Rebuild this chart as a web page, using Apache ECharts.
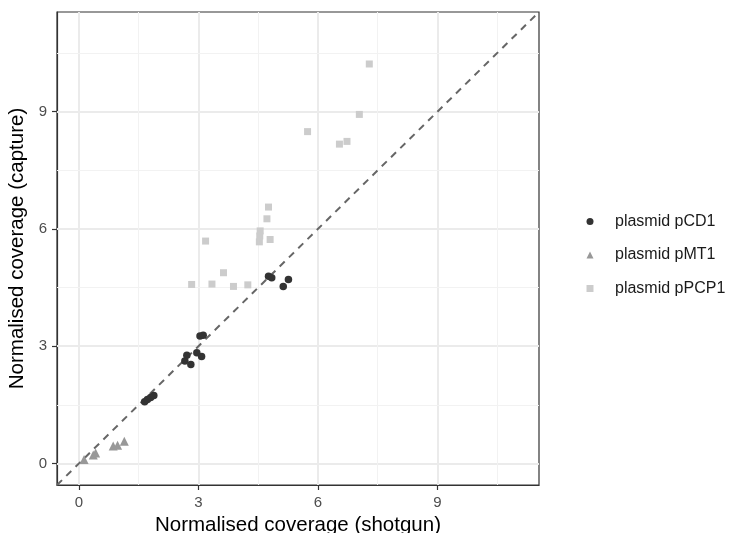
<!DOCTYPE html>
<html>
<head>
<meta charset="utf-8">
<script src="https://cdn.jsdelivr.net/npm/echarts@6/dist/echarts.min.js"></script>
<style>html,body{margin:0;padding:0;background:#fff;}#c{width:732px;height:533px;}</style>
</head>
<body>
<div id="c"></div>
<script>
// Data
const seriesNames = ['plasmid pCD1', 'plasmid pMT1', 'plasmid pPCP1'];
const pCD1_x = [1.65, 1.72, 1.80, 1.88, 2.66, 2.71, 2.81, 2.96, 3.08, 3.04, 3.12, 4.76, 4.84, 5.13, 5.26];
const pCD1_y = [1.58, 1.64, 1.69, 1.74, 2.62, 2.77, 2.53, 2.83, 2.74, 3.26, 3.28, 4.79, 4.75, 4.53, 4.71];
const pMT1_x = [0.13, 0.36, 0.42, 0.86, 0.97, 1.14];
const pMT1_y = [0.10, 0.22, 0.27, 0.45, 0.47, 0.57];
const pPCP1_x = [2.83, 3.18, 3.34, 3.63, 3.88, 4.24, 4.53, 4.55, 4.54, 4.80, 4.72, 4.76, 5.74, 6.54, 6.73, 7.04, 7.29];
const pPCP1_y = [4.58, 5.69, 4.59, 4.88, 4.53, 4.57, 5.67, 5.95, 5.82, 5.73, 6.26, 6.56, 8.49, 8.17, 8.24, 8.93, 10.22];
const axisLimits = [-0.55, 11.55];
const majorTicks = [0, 3, 6, 9];
const minorTicks = [1.5, 4.5, 7.5, 10.5];
const xTitle = 'Normalised coverage (shotgun)';
const yTitle = 'Normalised coverage (capture)';

const zip = (xs, ys) => xs.map((x, i) => [x, ys[i]]);
const FONT = 'Liberation Sans, Arial, Helvetica, sans-serif';
const colors = ['#333333', '#989898', '#cccccc'];

const gridLines = [];
majorTicks.forEach(v => {
  gridLines.push({xAxis: v, lineStyle: {color: '#ebebeb', width: 2, type: 'solid'}});
  gridLines.push({yAxis: v, lineStyle: {color: '#ebebeb', width: 2, type: 'solid'}});
});
minorTicks.forEach(v => {
  gridLines.push({xAxis: v, lineStyle: {color: '#f2f2f2', width: 1, type: 'solid'}});
  gridLines.push({yAxis: v, lineStyle: {color: '#f2f2f2', width: 1, type: 'solid'}});
});

const axisCommon = {
  type: 'value',
  min: axisLimits[0],
  max: axisLimits[1],
  nameLocation: 'middle',
  nameTextStyle: {fontFamily: FONT, fontSize: 20.5, color: '#000'},
  splitLine: {show: false},
  axisLine: {show: true, onZero: false, lineStyle: {color: '#333333', width: 1.2}},
  axisTick: {show: true, length: 5, customValues: majorTicks, lineStyle: {color: '#333333', width: 1.2}},
  axisLabel: {show: true, customValues: majorTicks, fontFamily: FONT, fontSize: 15, color: '#4d4d4d', margin: 10}
};

const chart = echarts.init(document.getElementById('c'), null, {renderer: 'canvas'});
chart.setOption({
  animation: false,
  backgroundColor: '#ffffff',
  grid: {left: 57, right: 193, top: 12, bottom: 48, containLabel: false, outerBoundsMode: 'none', show: true, borderColor: '#333333', borderWidth: 1.2, backgroundColor: 'transparent'},
  xAxis: Object.assign({}, axisCommon, {name: xTitle, nameGap: 27}),
  yAxis: Object.assign({}, axisCommon, {name: yTitle, nameGap: 25}),
  legend: {
    orient: 'vertical',
    left: 586.5,
    top: 213.5,
    padding: 0,
    itemGap: 17.5,
    itemWidth: 7,
    itemHeight: 7,
    textStyle: {fontFamily: FONT, fontSize: 16, color: '#1a1a1a', padding: [0, 0, 0, 16.5]},
    data: [
      {name: seriesNames[0], icon: 'circle', itemStyle: {color: colors[0]}},
      {name: seriesNames[1], icon: 'triangle', itemStyle: {color: colors[1]}},
      {name: seriesNames[2], icon: 'rect', itemStyle: {color: colors[2]}}
    ]
  },
  series: [
    {
      type: 'line',
      silent: true,
      data: [[axisLimits[0], axisLimits[0]], [axisLimits[1], axisLimits[1]]],
      symbol: 'none',
      lineStyle: {color: '#666666', width: 2, type: [7, 6]},
      z: 3,
      markLine: {silent: true, symbol: 'none', label: {show: false}, data: gridLines, z: 1, animation: false}
    },
    {name: seriesNames[0], type: 'scatter', data: zip(pCD1_x, pCD1_y), symbol: 'circle', symbolSize: 7.5, itemStyle: {color: colors[0], opacity: 1}, z: 5},
    {name: seriesNames[1], type: 'scatter', data: zip(pMT1_x, pMT1_y), symbol: 'triangle', symbolSize: 9, itemStyle: {color: colors[1], opacity: 1}, z: 5},
    {name: seriesNames[2], type: 'scatter', data: zip(pPCP1_x, pPCP1_y), symbol: 'rect', symbolSize: 7, itemStyle: {color: colors[2], opacity: 1}, z: 5}
  ]
});
</script>
</body>
</html>
